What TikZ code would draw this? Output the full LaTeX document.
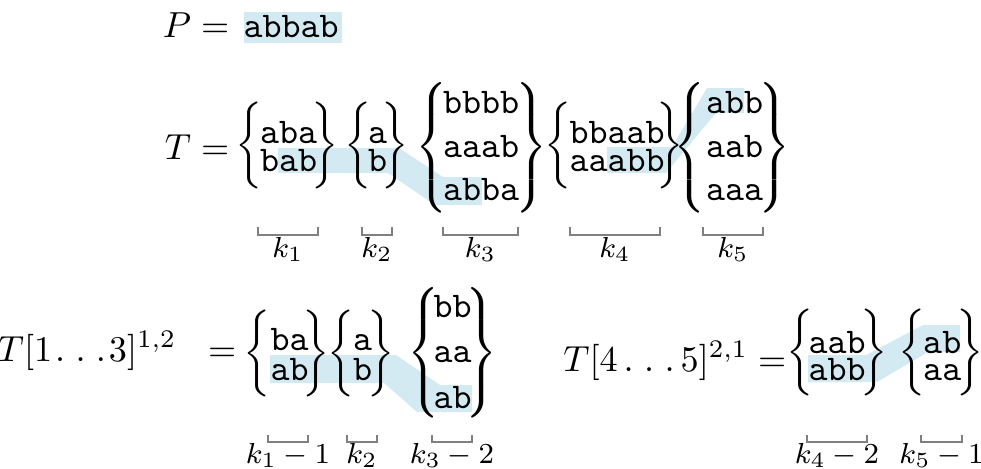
\documentclass[tikz,border=0pt]{standalone}
\definecolor{hlblue}{RGB}{212,234,243}
\newcommand\LBtwo{$\nulldelimiterspace0pt\left\{\vcenter{\hbox{\rule{0pt}{22pt}}}\right.$}
\newcommand\RBtwo{$\nulldelimiterspace0pt\left.\vcenter{\hbox{\rule{0pt}{22pt}}}\right\}$}
\newcommand\LBthree{$\nulldelimiterspace0pt\left\{\vcenter{\hbox{\rule{0pt}{34pt}}}\right.$}
\newcommand\RBthree{$\nulldelimiterspace0pt\left.\vcenter{\hbox{\rule{0pt}{34pt}}}\right\}$}
\newcommand\wdots{\mathinner{\ldotp\kern1.2pt\ldotp\kern1.2pt\ldotp}}
\newcommand\odots{{\kern0.8pt\ldotp\kern1.2pt\ldotp\kern1.2pt\ldotp\kern0.8pt}}
\begin{document}
\begin{tikzpicture}[x=0.2763pt,y=-0.2763pt,
  hl/.style={fill=hlblue,draw=none},
  brk/.style={draw=black!50,line width=0.45pt},
  ttx/.style={inner sep=0pt,anchor=base west,font=\ttfamily},
  lbl/.style={inner sep=0pt,anchor=base,font=\footnotesize},
  eqn/.style={inner sep=0pt,anchor=base east},
  brc/.style={inner sep=0pt,anchor=center}]
\useasboundingbox (0,0) rectangle (981,468);
% highlights
\fill[hl] (244,12) rectangle (342,43);
\fill[hl] (278,148) -- (399,148) -- (443,177) -- (482,177) -- (482,205) -- (435,205) -- (388,173) -- (278,173) -- cycle;
\fill[hl] (607,147) -- (672,147) -- (707,88) -- (744,88) -- (744,113) -- (716,113) -- (666,173) -- (607,173) -- cycle;
\fill[hl] (270,355) -- (396,355) -- (440,385) -- (472,385) -- (472,412) -- (417,412) -- (384,383) -- (270,383) -- cycle;
\fill[hl] (808,355) -- (866,355) -- (923,325) -- (960,325) -- (960,352) -- (928,352) -- (877,382) -- (808,382) -- cycle;
% row 1
\node[eqn] (peq) at (230,37) {$P=$};
\node[ttx] (p) at (243,37) {abbab};
% row 2
\node[eqn] (teq) at (230,159) {$T=$};
\node[brc] (aL1) at (249,145) {\LBtwo};
\node[ttx] (a1a) at (259.5,143) {aba};
\node[ttx] (a1b) at (259.5,171) {bab};
\node[brc] (aR1) at (325.5,145) {\RBtwo};
\node[brc] (aL2) at (358.5,145) {\LBtwo};
\node[ttx] (a2a) at (367.5,143) {a};
\node[ttx] (a2b) at (367.5,171) {b};
\node[brc] (aR2) at (395.5,145) {\RBtwo};
\node[brc] (aL3) at (431.5,147.5) {\LBthree};
\node[ttx] (a3a) at (442.5,113.5) {bbbb};
\node[ttx] (a3b) at (442.5,157.5) {aaab};
\node[ttx] (a3c) at (442.5,200.5) {abba};
\node[brc] (aR3) at (531.5,147.5) {\RBthree};
\node[brc] (aL4) at (558.5,145) {\LBtwo};
\node[ttx] (a4a) at (569,143) {bbaab};
\node[ttx] (a4b) at (569,171) {aaabb};
\node[brc] (aR4) at (670.5,145) {\RBtwo};
\node[brc] (aL5) at (689.5,147.5) {\LBthree};
\node[ttx] (a5a) at (705.5,113.5) {abb};
\node[ttx] (a5b) at (705.5,157.5) {aab};
\node[ttx] (a5c) at (705.5,200.5) {aaa};
\node[brc] (aR5) at (775,147.5) {\RBthree};
% row 2 brackets and labels
\draw[brk] (258,227) |- (318,235) -- (318,227);
\draw[brk] (362,227) |- (392,235) -- (392,227);
\draw[brk] (443,227) |- (518,235) -- (518,227);
\draw[brk] (570,227) |- (660,235) -- (660,227);
\draw[brk] (703,227) |- (763,235) -- (763,227);
\node[lbl] (k1) at (288,257) {$k_1$};
\node[lbl] (k2) at (377,257) {$k_2$};
\node[lbl] (k3) at (480.5,257) {$k_3$};
\node[lbl] (k4) at (615,257) {$k_4$};
\node[lbl] (k5) at (733,257) {$k_5$};
% row 3 left
\node[eqn] (t13) at (237,361) {$T[1\odots3]^{1,2}\kern6pt=$};
\node[brc] (bL1) at (257.5,353) {\LBtwo};
\node[ttx] (b1a) at (270,350) {ba};
\node[ttx] (b1b) at (270,380) {ab};
\node[brc] (bR1) at (316.5,353) {\RBtwo};
\node[brc] (bL2) at (341.5,353) {\LBtwo};
\node[ttx] (b2a) at (352.5,350) {a};
\node[ttx] (b2b) at (352.5,380) {b};
\node[brc] (bR2) at (381.5,353) {\RBtwo};
\node[brc] (bL3) at (423.5,353) {\LBthree};
\node[ttx] (b3a) at (433,317) {bb};
\node[ttx] (b3b) at (433,362) {aa};
\node[ttx] (b3c) at (433,408) {ab};
\node[brc] (bR3) at (481.5,353) {\RBthree};
% row 3 right
\node[eqn] (t45) at (787,371) {$T[4\wdots5]^{2,1}=$};
\node[brc] (cL1) at (800,352.5) {\LBtwo};
\node[ttx] (c1a) at (808,353) {aab};
\node[ttx] (c1b) at (808,380) {abb};
\node[brc] (cR1) at (874,352.5) {\RBtwo};
\node[brc] (cL2) at (912.5,352.5) {\LBtwo};
\node[ttx] (c2a) at (922.5,353) {ab};
\node[ttx] (c2b) at (922.5,380) {aa};
\node[brc] (cR2) at (970,352.5) {\RBtwo};
% row 3 brackets and labels
\draw[brk] (268,435) |- (308,442) -- (308,435);
\draw[brk] (347,435) |- (377,442) -- (377,435);
\draw[brk] (432,435) |- (472,442) -- (472,435);
\draw[brk] (807,435) |- (867,442) -- (867,435);
\draw[brk] (921,435) |- (962,442) -- (962,435);
\node[lbl] (m1) at (288,463) {$k_1-1$};
\node[lbl] (m2) at (362,463) {$k_2$};
\node[lbl] (m3) at (452,463) {$k_3-2$};
\node[lbl] (m4) at (837,463) {$k_4-2$};
\node[lbl] (m5) at (941.5,463) {$k_5-1$};
\end{tikzpicture}
\end{document}
